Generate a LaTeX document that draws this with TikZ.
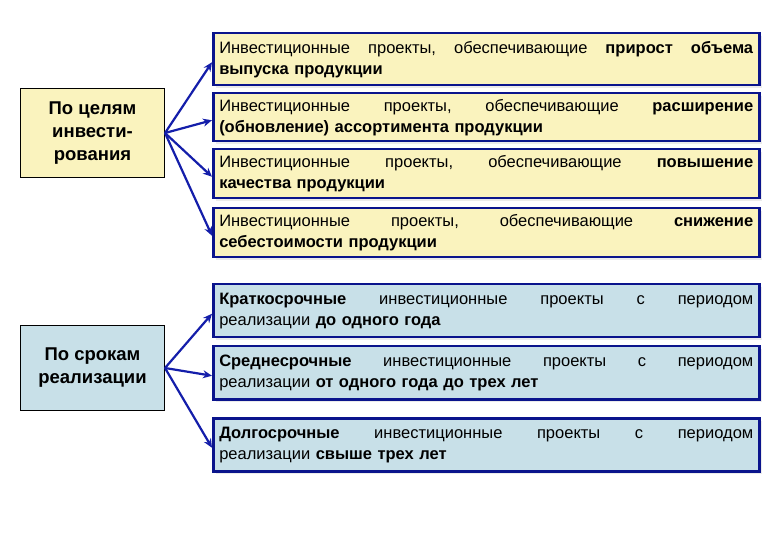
\documentclass[tikz,border=0pt]{standalone}
\usepackage{fontspec}
\setmainfont{Liberation Sans}
\usetikzlibrary{arrows.meta,shadows}
\definecolor{ylw}{RGB}{250,243,190}
\definecolor{blu}{RGB}{200,224,232}
\definecolor{navy}{RGB}{10,20,140}
\definecolor{arr}{RGB}{20,30,170}
\newcommand{\fl}[1]{\hbox to 534pt{#1}}
\begin{document}
\begin{tikzpicture}[x=1pt,y=-1pt,
 rbox/.style={draw=navy,line width=2.5pt,minimum width=546pt,minimum height=50pt,text width=534pt,align=left,inner sep=5pt,anchor=north west,font=\fontsize{16.5}{21}\selectfont,
   drop shadow={shadow xshift=3pt,shadow yshift=-3pt,fill=black!15}},
 lbox/.style={draw=black,line width=1pt,minimum width=144pt,align=center,font=\fontsize{18.5}{23}\selectfont\bfseries,anchor=north west},
 arw/.style={draw=arr,line width=2.2pt,-{Stealth[length=9pt,width=8pt]}}]
\useasboundingbox (0,0) rectangle (780,540);
\fill[white] (0,0) rectangle (780,540);
\node[lbox,fill=ylw,minimum height=89pt] (L1) at (20,88) {По целям\\инвести-\\рования};
\node[lbox,fill=blu,minimum height=85pt] (L2) at (20,325) {По срокам\\реализации};
\node[rbox,fill=ylw,minimum height=52pt] (Y1) at (212,32) {\fl{Инвестиционные\hfill проекты,\hfill обеспечивающие\hfill \textbf{прирост}\hfill \textbf{объема}}\\\textbf{выпуска продукции}};
\node[rbox,fill=ylw,minimum height=48pt] (Y2) at (212,92) {\fl{Инвестиционные\hfill проекты,\hfill обеспечивающие\hfill \textbf{расширение}}\\\textbf{(обновление) ассортимента продукции}};
\node[rbox,fill=ylw,minimum height=49pt] (Y3) at (212,148) {\fl{Инвестиционные\hfill проекты,\hfill обеспечивающие\hfill \textbf{повышение}}\\\textbf{качества продукции}};
\node[rbox,fill=ylw,minimum height=49pt] (Y4) at (212,207) {\fl{Инвестиционные\hfill проекты,\hfill обеспечивающие\hfill \textbf{снижение}}\\\textbf{себестоимости продукции}};
\node[rbox,fill=blu,minimum height=53pt] (B1) at (212,283) {\fl{\textbf{Краткосрочные}\hfill инвестиционные\hfill проекты\hfill с\hfill периодом}\\реализации \textbf{до одного года}};
\node[rbox,fill=blu,minimum height=53pt] (B2) at (212,345) {\fl{\textbf{Среднесрочные}\hfill инвестиционные\hfill проекты\hfill с\hfill периодом}\\реализации \textbf{от одного года до трех лет}};
\node[rbox,fill=blu,minimum height=53pt] (B3) at (212,417) {\fl{\textbf{Долгосрочные}\hfill инвестиционные\hfill проекты\hfill с\hfill периодом}\\реализации \textbf{свыше трех лет}};
\foreach \t in {Y1,Y2,Y3,Y4} \draw[arw] (L1.east) -- ([yshift=-3pt]\t.west);
\foreach \t in {B1,B2,B3} \draw[arw] (L2.east) -- ([yshift=-3pt]\t.west);
\end{tikzpicture}
\end{document}
